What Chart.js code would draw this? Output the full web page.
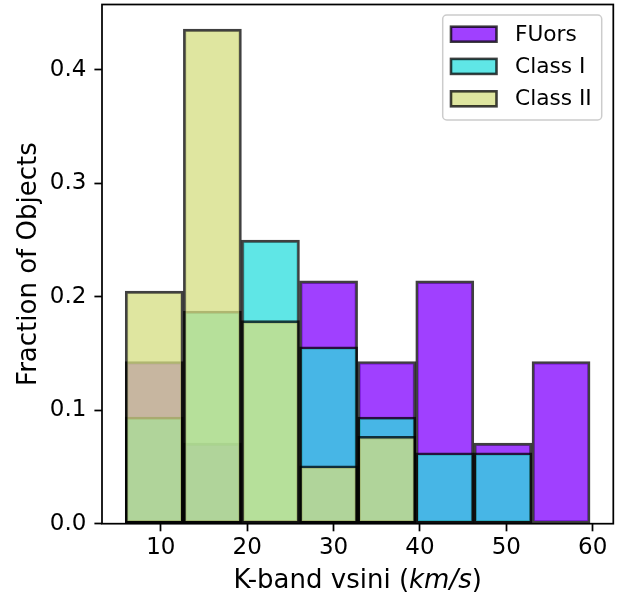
<!DOCTYPE html>
<html>
<head>
<meta charset="utf-8">
<script src="https://cdn.jsdelivr.net/npm/chart.js@4.4.0/dist/chart.umd.min.js"></script>
<style>
  html, body { margin: 0; padding: 0; background: #ffffff; }
  #wrap { width: 628px; height: 596px; }
</style>
</head>
<body>
<div id="wrap"><canvas id="hist" width="628" height="596"></canvas></div>
<script>
// Histogram bin centres (km/s) and the fraction of each sample per bin
const binCenters = [9.24, 15.97, 22.69, 29.42, 36.15, 42.87, 49.60, 56.33];
const fuors   = [0.143, 0.071, null, 0.214, 0.143, 0.214, 0.071, 0.143];
const classI  = [0.094, 0.1875, 0.25, 0.156, 0.094, 0.0625, 0.0625, null];
const classII = [0.205, 0.436, 0.179, 0.051, 0.077, null, null, null];

const seriesNames = ['FUors', 'Class I', 'Class II'];
const xTicks = [10, 20, 30, 40, 50, 60];
const yTicks = [0.0, 0.1, 0.2, 0.3, 0.4];

const FONT = '"DejaVu Sans", "Liberation Sans", sans-serif';
const TICK_PX = 23;
const LEGEND_PX = 21.7;
const LABEL_PX = 26;

const fills = ['rgba(128,0,255,0.75)', 'rgba(42,221,221,0.75)', 'rgba(212,221,128,0.75)'];
const edge = 'rgba(0,0,0,0.75)';

function pts(vals) {
  return vals.map((v, i) => ({ x: binCenters[i], y: v }));
}

function makeSet(name, vals, idx) {
  return {
    label: name,
    data: pts(vals),
    backgroundColor: fills[idx],
    borderColor: edge,
    borderWidth: 2.6,
    borderSkipped: false,
    barPercentage: 1.0,
    categoryPercentage: 1.0,
    grouped: false,
    order: 3 - idx
  };
}

// Frame on all four sides, axis titles and the legend box
const decorations = {
  id: 'decorations',
  afterDraw(chart) {
    const ctx = chart.ctx;
    const a = chart.chartArea;
    ctx.save();
    ctx.strokeStyle = '#000';
    ctx.lineWidth = 1.74;
    ctx.strokeRect(a.left, a.top, a.right - a.left, a.bottom - a.top);

    // x-axis title with italic unit
    const parts = [['K-band vsini (', 'normal'], ['km/s', 'italic'], [')', 'normal']];
    let total = 0;
    parts.forEach(p => { ctx.font = p[1] + ' ' + LABEL_PX + 'px ' + FONT; total += ctx.measureText(p[0]).width; });
    let x = (a.left + a.right) / 2 - total / 2;
    ctx.fillStyle = '#000';
    ctx.textBaseline = 'alphabetic';
    ctx.textAlign = 'left';
    parts.forEach(p => {
      ctx.font = p[1] + ' ' + LABEL_PX + 'px ' + FONT;
      ctx.fillText(p[0], x, 588);
      x += ctx.measureText(p[0]).width;
    });

    // y-axis title
    ctx.save();
    ctx.translate(36, (a.top + a.bottom) / 2);
    ctx.rotate(-Math.PI / 2);
    ctx.font = LABEL_PX + 'px ' + FONT;
    ctx.textAlign = 'center';
    ctx.textBaseline = 'alphabetic';
    ctx.fillText('Fraction of Objects', 0, 0);
    ctx.restore();

    // legend
    const bx = 442.7, by = 15, bw = 159, bh = 105, r = 4;
    ctx.beginPath();
    ctx.roundRect(bx, by, bw, bh, r);
    ctx.fillStyle = 'rgba(255,255,255,0.8)';
    ctx.fill();
    ctx.strokeStyle = '#cccccc';
    ctx.lineWidth = 1.5;
    ctx.stroke();
    const rows = [34.2, 66.4, 98.8];
    chart.data.datasets.forEach((ds, i) => {
      const cy = rows[i];
      ctx.fillStyle = '#ffffff';
      ctx.fillRect(451, cy - 7.5, 45.5, 15);
      ctx.fillStyle = ds.backgroundColor;
      ctx.fillRect(451, cy - 7.5, 45.5, 15);
      ctx.strokeStyle = ds.borderColor;
      ctx.lineWidth = 2.6;
      ctx.strokeRect(451, cy - 7.5, 45.5, 15);
      ctx.fillStyle = '#000';
      ctx.font = LEGEND_PX + 'px ' + FONT;
      ctx.textAlign = 'left';
      ctx.textBaseline = 'middle';
      ctx.fillText(ds.label, 515, cy + 1);
    });
    ctx.restore();
  }
};

const tickGrid = {
  display: true, offset: false, drawOnChartArea: false, drawTicks: true,
  tickLength: 7.6, tickWidth: 1.74, tickColor: '#000'
};

new Chart(document.getElementById('hist'), {
  type: 'bar',
  data: {
    datasets: [
      makeSet(seriesNames[0], fuors, 0),
      makeSet(seriesNames[1], classI, 1),
      makeSet(seriesNames[2], classII, 2)
    ]
  },
  options: {
    responsive: false,
    animation: false,
    devicePixelRatio: 1,
    layout: { padding: { left: 0, top: 4.5, right: 14.7, bottom: 0 } },
    plugins: { legend: { display: false }, tooltip: { enabled: false }, title: { display: false } },
    scales: {
      x: {
        type: 'linear',
        offset: false,
        min: 3.19,
        max: 62.38,
        afterBuildTicks: s => { s.ticks = xTicks.map(v => ({ value: v })); },
        afterFit: s => { s.height = 72.3; s.paddingLeft = 0; s.paddingRight = 0; },
        grid: tickGrid,
        border: { display: false },
        ticks: { color: '#000', font: { family: FONT, size: TICK_PX }, padding: 3, maxRotation: 0, autoSkip: false }
      },
      y: {
        type: 'linear',
        min: 0,
        max: 0.4577,
        afterBuildTicks: s => { s.ticks = yTicks.map(v => ({ value: v })); },
        afterFit: s => { s.width = 102; s.paddingTop = 0; s.paddingBottom = 0; },
        grid: tickGrid,
        border: { display: false },
        ticks: { color: '#000', font: { family: FONT, size: TICK_PX }, padding: 8, callback: v => v.toFixed(1), autoSkip: false }
      }
    }
  },
  plugins: [decorations]
});
</script>
</body>
</html>
